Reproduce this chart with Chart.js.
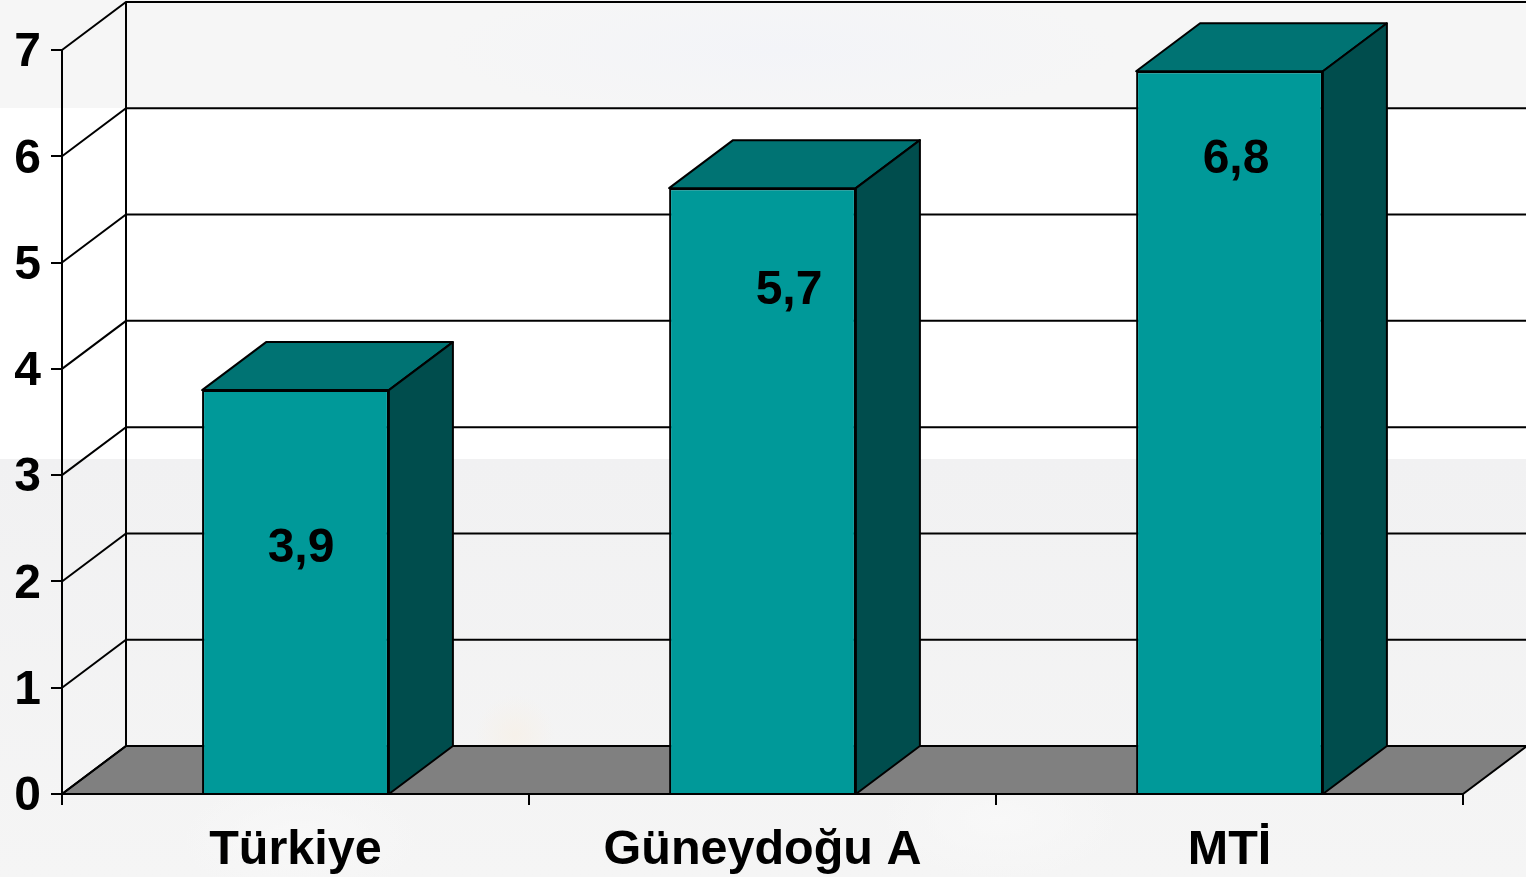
<!DOCTYPE html>
<html>
<head>
<meta charset="utf-8">
<title>Chart</title>
<script src="https://cdn.jsdelivr.net/npm/chart.js@4"></script>
<style>
html, body { margin: 0; padding: 0; overflow: hidden; }
body {
    width: 1526px;
    height: 877px;
    background:
        radial-gradient(ellipse 40px 40px at 515px 735px, #f6f1ea, rgba(246,241,234,0)),
        radial-gradient(ellipse 120px 60px at 1000px 820px, #f8f8f8, rgba(248,248,248,0)),
        radial-gradient(ellipse 120px 60px at 300px 840px, #f8f8f8, rgba(248,248,248,0)),
        radial-gradient(ellipse 340px 70px at 780px 50px, #f3f4f8, rgba(243,244,248,0)) 0 0 / 100% 108px no-repeat,
        linear-gradient(#f6f6f6 0, #f6f6f6 108px, #ffffff 108px, #ffffff 459px, #f1f1f2 459px, #f5f5f5 877px);
}
canvas { display: block; }
</style>
</head>
<body>
<canvas id="bar-chart" width="1526" height="877"></canvas>
<script>
const categories = ["Türkiye", "Güneydoğu A", "MTİ"];
// bar heights as drawn (the first bar stands a little below its printed 3,9)
const barValues = [3.8, 5.7, 6.8];
const valueLabels = ["3,9", "5,7", "6,8"];
const yTicks = [0, 1, 2, 3, 4, 5, 6, 7];

// the labels sit by hand inside the bars, not centred
const labelX = [301, 789, 1236];
const labelY = [549, 291, 160];

const DEPTH_X = 64;
const DEPTH_Y = -48;
const FONT = '"Liberation Sans", Arial, sans-serif';

function poly(ctx, pts, fill) {
    ctx.beginPath();
    ctx.moveTo(pts[0][0], pts[0][1]);
    for (let i = 1; i < pts.length; i++) ctx.lineTo(pts[i][0], pts[i][1]);
    ctx.closePath();
    if (fill) {
        ctx.fillStyle = fill;
        ctx.fill();
    }
    ctx.stroke();
}

const box3d = {
    id: 'box3d',
    beforeDatasetsDraw(chart) {
        const ctx = chart.ctx, area = chart.chartArea, y = chart.scales.y;
        const l = area.left, r = area.right, b = area.bottom;
        ctx.save();
        ctx.strokeStyle = '#000';
        ctx.lineWidth = 2;
        // floor
        poly(ctx, [[l, b], [r, b], [r + DEPTH_X, b + DEPTH_Y], [l + DEPTH_X, b + DEPTH_Y]], '#808080');
        // side wall and back wall lines
        yTicks.forEach(function (t) {
            const py = y.getPixelForValue(t);
            ctx.beginPath();
            ctx.moveTo(l, py);
            ctx.lineTo(l + DEPTH_X, py + DEPTH_Y);
            ctx.lineTo(r + DEPTH_X, py + DEPTH_Y);
            ctx.stroke();
        });
        ctx.beginPath();
        ctx.moveTo(l + DEPTH_X, y.getPixelForValue(7) + DEPTH_Y);
        ctx.lineTo(l + DEPTH_X, b + DEPTH_Y);
        ctx.stroke();
        ctx.restore();
    },
    afterDatasetsDraw(chart) {
        const ctx = chart.ctx, b = chart.chartArea.bottom;
        ctx.save();
        ctx.strokeStyle = '#000';
        ctx.lineWidth = 2;
        ctx.lineJoin = 'round';
        chart.getDatasetMeta(0).data.forEach(function (bar, i) {
            const x0 = bar.x - bar.width / 2, x1 = bar.x + bar.width / 2, top = bar.y;
            poly(ctx, [[x0, top], [x1, top], [x1 + DEPTH_X, top + DEPTH_Y], [x0 + DEPTH_X, top + DEPTH_Y]], '#007373');
            poly(ctx, [[x1, top], [x1 + DEPTH_X, top + DEPTH_Y], [x1 + DEPTH_X, b + DEPTH_Y], [x1, b]], '#004d4d');
            ctx.fillStyle = '#000';
            ctx.font = 'bold 48px ' + FONT;
            ctx.textAlign = 'center';
            ctx.textBaseline = 'middle';
            ctx.fillText(valueLabels[i], labelX[i], labelY[i]);
        });
        ctx.restore();
    }
};

new Chart(document.getElementById("bar-chart"), {
    type: 'bar',
    data: {
        labels: categories,
        datasets: [
            {
                label: "Değer",
                backgroundColor: "#009999",
                borderColor: "#000",
                borderWidth: 2,
                categoryPercentage: 1,
                barPercentage: 0.4,
                data: barValues
            }
        ]
    },
    plugins: [box3d],
    options: {
        responsive: false,
        maintainAspectRatio: false,
        animation: false,
        devicePixelRatio: 1,
        layout: {padding: {top: 50, right: 63, left: 0, bottom: 0}},
        plugins: {
            legend: {display: false},
            tooltip: {enabled: false}
        },
        scales: {
            x: {
                afterFit(scale) { scale.height = 83; },
                border: {color: '#000', width: 2},
                grid: {drawOnChartArea: false, color: '#000', lineWidth: 2, tickLength: 11},
                ticks: {color: '#000', padding: 17, maxRotation: 0, font: {family: FONT, size: 48.5, weight: 'bold'}}
            },
            y: {
                min: 0,
                max: 7,
                afterFit(scale) { scale.width = 62; },
                border: {color: '#000', width: 2},
                grid: {drawOnChartArea: false, color: '#000', lineWidth: 2, tickLength: 11},
                ticks: {color: '#000', stepSize: 1, padding: 10, labelOffset: 3, font: {family: FONT, size: 48, weight: 'bold'}}
            }
        }
    }
});
</script>
</body>
</html>
